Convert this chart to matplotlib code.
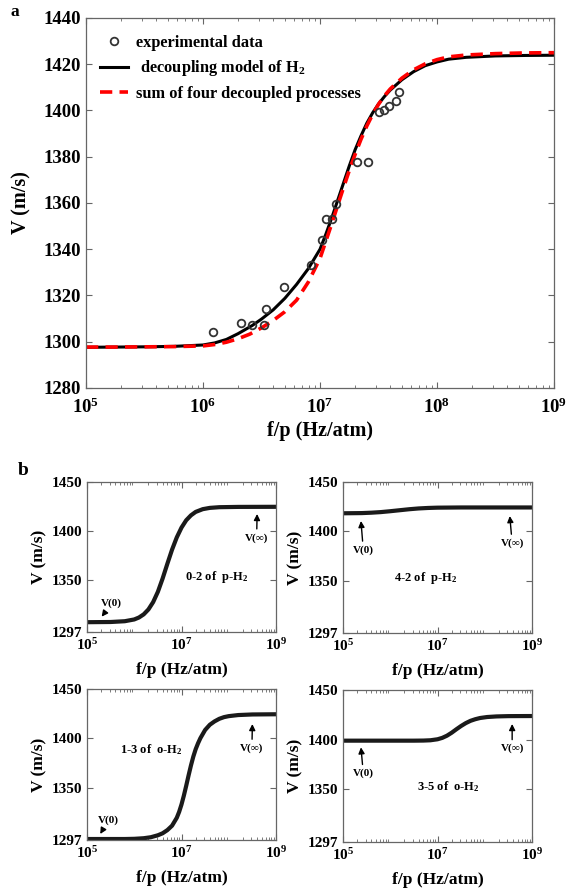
import numpy as np
import matplotlib
matplotlib.use('Agg')
import matplotlib.pyplot as plt
from matplotlib.ticker import LogLocator, NullFormatter

plt.rcParams['font.family'] = 'Liberation Serif'
plt.rcParams['font.weight'] = 'bold'
plt.rcParams['axes.labelweight'] = 'bold'
plt.rcParams['mathtext.fontset'] = 'custom'
plt.rcParams['mathtext.rm'] = 'Liberation Serif:bold'
plt.rcParams['mathtext.bf'] = 'Liberation Serif:bold'
plt.rcParams['mathtext.it'] = 'Liberation Serif:bold'

# ---- panel a data ----
exp_fp = [1.22e6, 2.1e6, 2.6e6, 3.32e6, 3.43e6, 4.96e6, 8.3e6, 1.04e7, 1.12e7,
          1.27e7, 1.36e7, 2.06e7, 2.55e7, 3.18e7, 3.54e7, 3.88e7, 4.47e7, 4.77e7]
exp_v = [1304.1, 1308.1, 1307.2, 1307.2, 1314.3, 1323.8, 1333.1, 1344.1, 1353.1,
         1353.1, 1359.4, 1377.6, 1377.7, 1399.4, 1400.0, 1402.0, 1404.2, 1408.0]

# log10(f/p) and V for the decoupling model (black) and the sum of processes (red)
model_lg = [5.0, 5.25, 5.5, 5.75, 6.0, 6.1, 6.2, 6.3, 6.42, 6.5, 6.6, 6.7, 6.8, 6.9,
            7.0, 7.05, 7.1, 7.15, 7.2, 7.25, 7.3, 7.35, 7.4, 7.45, 7.5, 7.55, 7.6,
            7.7, 7.8, 7.9, 8.0, 8.1, 8.25, 8.5, 8.75, 9.0]
model_v = [1297.6, 1297.7, 1297.8, 1298.0, 1298.6, 1299.5, 1301.0, 1303.5, 1307.0,
           1309.8, 1313.8, 1318.8, 1324.8, 1331.6, 1340.0, 1346.5, 1353.5, 1361.0,
           1368.5, 1376.0, 1383.0, 1389.0, 1394.5, 1399.0, 1402.8, 1406.0, 1408.8,
           1413.3, 1416.8, 1419.4, 1421.0, 1422.2, 1423.0, 1423.6, 1423.8, 1423.9]

sum_lg = [5.0, 5.25, 5.5, 5.75, 6.0, 6.1, 6.2, 6.3, 6.4, 6.5, 6.6, 6.7, 6.8, 6.9,
          7.0, 7.05, 7.1, 7.15, 7.2, 7.25, 7.3, 7.35, 7.4, 7.45, 7.5, 7.55, 7.6,
          7.7, 7.8, 7.9, 8.0, 8.1, 8.25, 8.5, 8.75, 9.0]
sum_v = [1297.7, 1297.7, 1297.8, 1297.9, 1298.2, 1298.8, 1299.8, 1301.3, 1303.3,
         1306.0, 1309.2, 1313.0, 1318.0, 1325.8, 1336.0, 1343.5, 1351.0, 1358.8,
         1366.5, 1374.0, 1381.0, 1387.5, 1393.3, 1398.3, 1402.7, 1406.3, 1409.3,
         1414.0, 1417.6, 1420.2, 1422.0, 1423.2, 1424.0, 1424.6, 1424.9, 1425.0]

# ---- panel b data (four decoupled processes) ----
p1_lg = [5.0, 5.5, 5.8, 6.0, 6.1, 6.2, 6.3, 6.4, 6.5, 6.6, 6.7, 6.8, 6.9, 7.0,
         7.1, 7.2, 7.3, 7.45, 7.6, 7.8, 8.2, 9.0]
p1_v = [1307.0, 1307.2, 1308.0, 1309.8, 1311.8, 1315.0, 1320.0, 1327.5, 1338.0,
        1351.5, 1366.5, 1381.0, 1393.5, 1403.5, 1411.0, 1416.0, 1419.5, 1422.3,
        1423.6, 1424.3, 1424.6, 1424.7]

p2_lg = [5.0, 5.4, 5.6, 5.8, 6.0, 6.2, 6.4, 6.6, 6.8, 7.0, 7.5, 9.0]
p2_v = [1418.3, 1418.5, 1418.9, 1419.5, 1420.4, 1421.4, 1422.4, 1423.2, 1423.7,
        1424.0, 1424.2, 1424.2]

p3_lg = [5.0, 5.8, 6.0, 6.2, 6.35, 6.5, 6.6, 6.7, 6.8, 6.9, 6.95, 7.0, 7.05, 7.1,
         7.15, 7.2, 7.25, 7.3, 7.35, 7.4, 7.5, 7.6, 7.7, 7.8, 7.9, 8.0, 8.2, 8.5, 9.0]
p3_v = [1298.0, 1298.0, 1298.2, 1298.8, 1299.8, 1301.8, 1303.8, 1307.0, 1311.5,
        1319.5, 1325.5, 1333.0, 1342.0, 1352.0, 1362.5, 1372.5, 1381.5, 1389.0,
        1395.0, 1400.2, 1408.5, 1413.8, 1417.2, 1419.8, 1421.5, 1422.5, 1423.6,
        1424.2, 1424.4]

p4_lg = [5.0, 6.5, 6.7, 6.85, 7.0, 7.1, 7.2, 7.3, 7.4, 7.5, 7.6, 7.7, 7.8, 7.9,
         8.05, 8.25, 8.5, 9.0]
p4_v = [1399.0, 1399.0, 1399.1, 1399.4, 1400.4, 1401.8, 1404.0, 1407.0, 1410.5,
        1413.8, 1416.7, 1419.0, 1420.6, 1421.8, 1422.8, 1423.4, 1423.7, 1423.8]

proc_names = ['0-2 of  p-H$_2$', '4-2 of  p-H$_2$', '1-3 of  o-H$_2$', '3-5 of  o-H$_2$']

W, H = 567, 894
fig = plt.figure(figsize=(W / 100, H / 100), dpi=100)

spine_col = '#666666'


def style_axes(ax, fs, xpad):
    ax.set_xscale('log')
    ax.tick_params(which='both', direction='in', top=True, right=True,
                   color=spine_col, labelsize=fs)
    ax.tick_params(which='major', length=4, width=0.8)
    ax.tick_params(which='minor', length=2, width=0.6)
    ax.tick_params(axis='x', pad=xpad)
    for s in ax.spines.values():
        s.set_color(spine_col)
        s.set_linewidth(0.9)
    ax.xaxis.set_minor_locator(LogLocator(base=10, subs=np.arange(2, 10), numticks=20))
    ax.xaxis.set_minor_formatter(NullFormatter())


# ---------------- panel a ----------------
ax = fig.add_axes([86 / W, 1 - 388 / H, 468 / W, 370 / H])
style_axes(ax, 13.5, 7)
ax.plot(exp_fp, exp_v, 'o', mfc='none', mec='#333333', mew=1.3, ms=5.5,
        label='experimental data', zorder=3)
ax.plot(10 ** np.array(model_lg), model_v, '-', color='black', lw=2.2,
        label=' decoupling model of H$_2$')
ax.plot(10 ** np.array(sum_lg), sum_v, '--', color='#ff0000', lw=2.6,
        dashes=(3.4, 2.0), label='sum of four decoupled processes')
ax.set_xlim(1e5, 1e9)
ax.set_ylim(1280, 1440)
ax.set_xticks([1e5, 1e6, 1e7, 1e8, 1e9])
ax.set_xticklabels([r'$\mathbf{10^{%d}}$' % k for k in range(5, 10)])
ax.set_yticks(np.arange(1280, 1441, 20))
ax.set_xlabel('f/p (Hz/atm)', fontsize=14.5, labelpad=3)
ax.set_ylabel('V (m/s)', fontsize=14.5, labelpad=9)
ax.legend(loc='upper left', frameon=False, fontsize=11.8, handlelength=1.7,
          handletextpad=0.5, borderaxespad=0.3, labelspacing=0.45,
          bbox_to_anchor=(0.005, 0.985))
fig.text(15 / W, 1 - 12 / H, 'a', fontsize=12.5, ha='center', va='center')
fig.text(23 / W, 1 - 470 / H, 'b', fontsize=14, ha='center', va='center')

# ---------------- panel b ----------------
pos = [(87, 482, 276, 632), (343, 482, 532, 633), (87, 689, 276, 840), (343, 690, 532, 842)]
curves = [(p1_lg, p1_v), (p2_lg, p2_v), (p3_lg, p3_v), (p4_lg, p4_v)]
# annotation anchors: (V(0) text, V(0) tip, Vinf text, Vinf tip, label pos) in (log f/p, V)
ann = [
    ((5.52, 1326), (5.31, 1312.6), (8.59, 1393), (8.6, 1417.4), (7.74, 1353.4)),
    ((5.43, 1381), (5.38, 1410.5), (8.58, 1388), (8.53, 1415.5), (6.74, 1352.4)),
    ((5.45, 1317), (5.28, 1303.1), (8.49, 1390), (8.5, 1414.5), (6.37, 1389.0)),
    ((5.43, 1366), (5.38, 1392.3), (8.58, 1391), (8.58, 1415.8), (7.23, 1352.5)),
]
for (x0, y0, x1, y1), (lg, v), (t0, a0, t1, a1, lab), name in zip(pos, curves, ann, proc_names):
    bx = fig.add_axes([x0 / W, 1 - y1 / H, (x1 - x0) / W, (y1 - y0) / H])
    style_axes(bx, 11, 3.5)
    bx.plot(10 ** np.array(lg), v, '-', color='#1a1a1a', lw=3.0,
            solid_joinstyle='round')
    bx.set_xlim(1e5, 1e9)
    bx.set_ylim(1297, 1450)
    bx.set_xticks([1e5, 1e7, 1e9])
    bx.set_xticklabels([r'$\mathbf{10^{%d}}$' % k for k in (5, 7, 9)])
    bx.set_yticks([1297, 1350, 1400, 1450])
    bx.set_xlabel('f/p (Hz/atm)', fontsize=12.5, labelpad=7)
    bx.set_ylabel('V (m/s)', fontsize=12.5, labelpad=3)
    arr = dict(arrowstyle='-|>', color='black', lw=1.0, mutation_scale=9,
               shrinkA=1, shrinkB=0)
    bx.annotate('V(0)', xy=(10 ** a0[0], a0[1]), xytext=(10 ** t0[0], t0[1]),
                fontsize=8, ha='center', va='center', arrowprops=arr)
    bx.annotate('V(∞)', xy=(10 ** a1[0], a1[1]), xytext=(10 ** t1[0], t1[1]),
                fontsize=8, ha='center', va='center', arrowprops=arr)
    bx.text(10 ** lab[0], lab[1], name, fontsize=9, ha='center', va='center')

fig.savefig('out.png', dpi=100)
